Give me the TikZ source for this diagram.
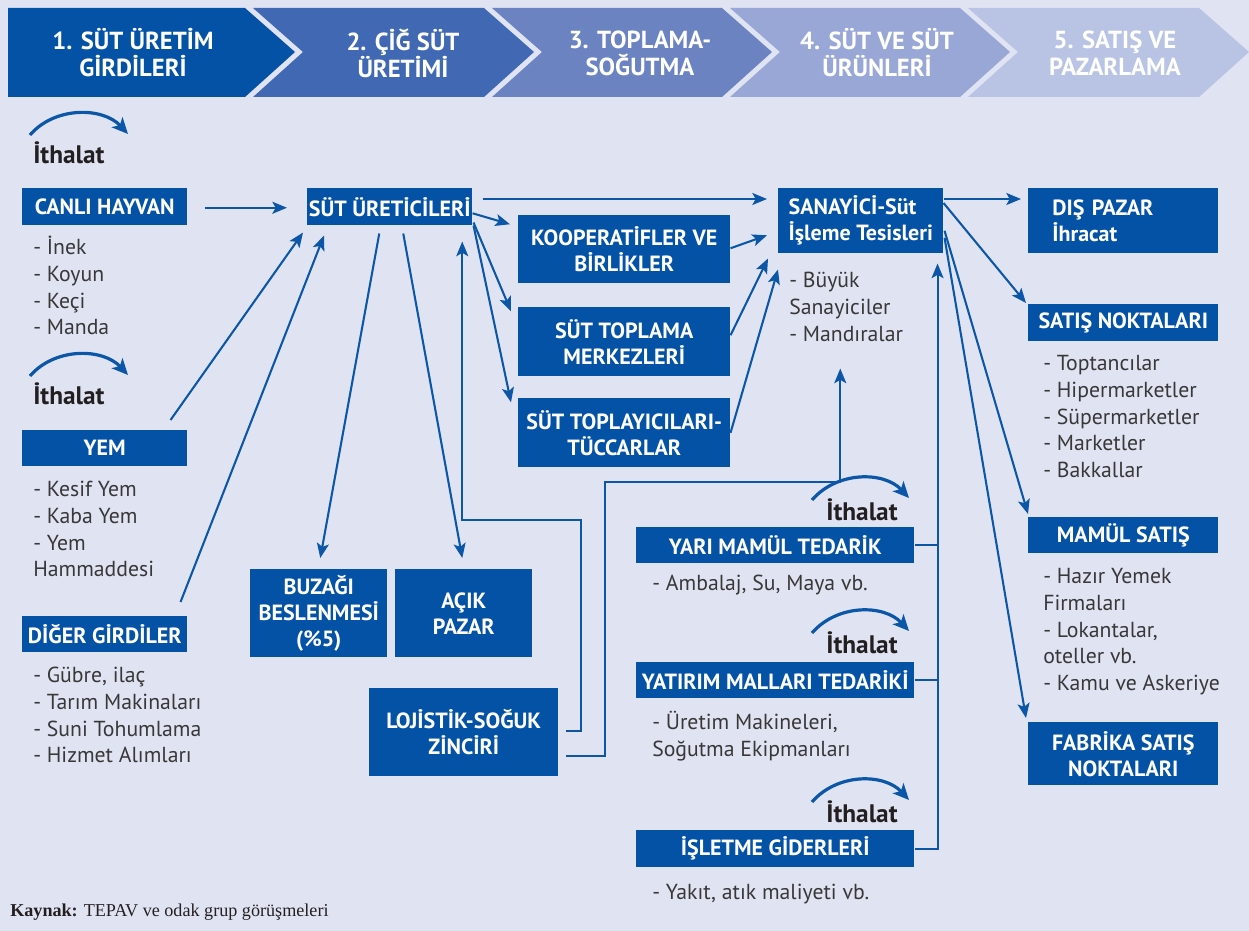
\documentclass[tikz,border=0pt]{standalone}
\usepackage{fontspec}
\setmainfont{PT Sans}
\newfontfamily\capfont{Liberation Serif}
\usepackage{xcolor}
\usetikzlibrary{arrows.meta, positioning, calc}

\definecolor{boxblue}{HTML}{0452A5}
\definecolor{lineblue}{HTML}{0B56A7}
\definecolor{bgcol}{HTML}{E0E4F2}
\definecolor{listgray}{HTML}{383838}
\definecolor{ithgray}{HTML}{231F20}
\definecolor{chevA}{HTML}{0452A5}
\definecolor{chevB}{HTML}{4169B3}
\definecolor{chevC}{HTML}{6C83C2}
\definecolor{chevD}{HTML}{98A7D6}
\definecolor{chevE}{HTML}{B9C3E3}

\begin{document}
\begin{tikzpicture}[
    x=0.75pt, y=-0.75pt,
    box/.style={fill=boxblue, text=white, font=\bfseries\fontsize{16.5}{19.5}\selectfont,
        align=center, inner sep=0pt, anchor=north west},
    sz/.style 2 args={minimum width=#1*0.75pt, minimum height=#2*0.75pt},
    lst/.style={anchor=north west, align=left, inner sep=0pt, text=listgray,
        font=\fontsize{16.3}{20}\selectfont},
    head/.style={text=white, align=center, inner sep=0pt, font=\bfseries\fontsize{18.5}{20.25}\selectfont},
    ith/.style={text=ithgray, inner sep=0pt, font=\bfseries\fontsize{19}{21}\selectfont},
    arr/.style={draw=lineblue, line width=1.55pt, -{Stealth[length=11pt, width=9pt, inset=2.5pt]}},
    conn/.style={draw=lineblue, line width=1.55pt},
    imparc/.style={draw=lineblue, line width=2.4pt, -{Stealth[length=12pt, width=11pt, inset=3pt]}}
]
\fill[bgcol] (0,0) rectangle (1249,931);
\useasboundingbox (0,0) rectangle (1249,931);

% stages
\fill[chevA] (8,8) -- (245,8) -- (295,52) -- (245,97) -- (8,97) -- cycle;
\fill[chevB] (253,8) -- (484,8) -- (534,52) -- (484,97) -- (253,97) -- (303,52) -- cycle;
\fill[chevC] (492,8) -- (722,8) -- (772,52) -- (722,97) -- (492,97) -- (542,52) -- cycle;
\fill[chevD] (730,8) -- (960,8) -- (1010,52) -- (960,97) -- (730,97) -- (780,52) -- cycle;
\fill[chevE] (968,8) -- (1199,8) -- (1249,52) -- (1199,97) -- (968,97) -- (1018,52) -- cycle;
\node[head] (st1) at (133,53) {1. SÜT ÜRETİM\\GİRDİLERİ};
\node[head] (st2) at (403,53) {2. ÇİĞ SÜT\\ÜRETİMİ};
\node[head] (st3) at (640,53) {3. TOPLAMA-\\SOĞUTMA};
\node[head] (st4) at (877,53) {4. SÜT VE SÜT\\ÜRÜNLERİ};
\node[head] (st5) at (1115,53) {5. SATIŞ VE\\PAZARLAMA};

% inputs
\node[ith, anchor=base west] (ith1) at (33,163) {İthalat};
\node[box, sz={165}{37}] (canli) at (22,188) {CANLI HAYVAN};
\node[lst] (canliList) at (33,236) {\strut- İnek\\- Koyun\\- Keçi\\- Manda};
\node[ith, anchor=base west] (ith2) at (33,404) {İthalat};
\node[box, sz={165}{36}] (yem) at (22,430) {YEM};
\node[lst] (yemList) at (33,478) {\strut- Kesif Yem\\- Kaba Yem\\- Yem\\Hammaddesi};
\node[box, sz={165}{36}] (diger) at (22,616) {DİĞER GİRDİLER};
\node[lst] (digerList) at (33,664) {\strut- Gübre, ilaç\\- Tarım Makinaları\\- Suni Tohumlama\\- Hizmet Alımları};

% raw milk
\node[box, sz={165}{37}] (ureticiler) at (307,188) {SÜT ÜRETİCİLERİ};
\node[box, sz={137}{88}] (buzagi) at (250,569) {BUZAĞI\\BESLENMESİ\\(\%5)};
\node[box, sz={137}{88}] (acik) at (395,569) {AÇIK\\PAZAR};
\node[box, sz={189}{88}] (lojistik) at (369,688) {LOJİSTİK-SOĞUK\\ZİNCİRİ};

% collection
\node[box, sz={212}{68}] (koop) at (518,215) {KOOPERATİFLER VE\\BİRLİKLER};
\node[box, sz={212}{69}] (merkez) at (518,307) {SÜT TOPLAMA\\MERKEZLERİ};
\node[box, sz={212}{69}] (tuccar) at (518,398) {SÜT TOPLAYICILARI-\\TÜCCARLAR};

% processing
\node[box, sz={165}{65}, align=left] (sanayici) at (778,188) {SANAYİCİ-Süt\\İşleme Tesisleri};
\node[lst] (sanayiciList) at (789,269) {\strut- Büyük\\Sanayiciler\\- Mandıralar};
\node[ith, anchor=base] (ith3) at (862,520) {İthalat};
\node[box, sz={278}{36}] (yari) at (636,527) {YARI MAMÜL TEDARİK};
\node[lst] (yariList) at (652,572) {\strut- Ambalaj, Su, Maya vb.};
\node[ith, anchor=base] (ith4) at (862,653) {İthalat};
\node[box, sz={278}{36}] (yatirim) at (636,662) {YATIRIM MALLARI TEDARİKİ};
\node[lst] (yatirimList) at (652,711) {\strut- Üretim Makineleri,\\Soğutma Ekipmanları};
\node[ith, anchor=base] (ith5) at (862,822) {İthalat};
\node[box, sz={278}{37}] (isletme) at (636,830) {İŞLETME GİDERLERİ};
\node[lst] (isletmeList) at (652,881) {\strut- Yakıt, atık maliyeti vb.};

% sales
\node[box, align=left, inner xsep=24*0.75pt, text width=142*0.75pt, minimum height=65*0.75pt] (dis) at (1028,188) {DIŞ PAZAR\\İhracat};
\node[box, sz={190}{37}] (satis) at (1028,304) {SATIŞ NOKTALARI};
\node[lst] (satisList) at (1043,352) {\strut- Toptancılar\\- Hipermarketler\\- Süpermarketler\\- Marketler\\- Bakkallar};
\node[box, sz={190}{36}] (mamul) at (1028,517) {MAMÜL SATIŞ};
\node[lst] (mamulList) at (1043,565) {\strut- Hazır Yemek\\Firmaları\\- Lokantalar,\\oteller vb.\\- Kamu ve Askeriye};
\node[box, sz={190}{63}] (fabrika) at (1028,722) {FABRİKA SATIŞ\\NOKTALARI};

\node[anchor=base west, inner sep=0pt, text=ithgray, font=\capfont\fontsize{13.6}{15}\selectfont] (kaynak) at (10,916) {\textbf{Kaynak:} TEPAV ve odak grup görüşmeleri};

% import arcs
\draw[imparc] ($(ith1.base west)+(-3,-28)$) .. controls +(25,-29) and +(-25,-27) .. ($(ith1.base west)+(95,-29)$);
\draw[imparc] ($(ith2.base west)+(-3,-28)$) .. controls +(25,-29) and +(-25,-27) .. ($(ith2.base west)+(95,-29)$);
\draw[imparc] ($(ith3.base)+(-50,-20)$) .. controls +(25,-29) and +(-25,-27) .. ($(ith3.base)+(47,-22)$);
\draw[imparc] ($(ith4.base)+(-50,-20)$) .. controls +(25,-29) and +(-25,-27) .. ($(ith4.base)+(47,-22)$);
\draw[imparc] ($(ith5.base)+(-50,-20)$) .. controls +(25,-29) and +(-25,-27) .. ($(ith5.base)+(47,-22)$);

% flows into producers
\draw[arr] ($(canli.east)+(17,1)$) -- ($(ureticiler.west)+(-20,1)$);
\draw[arr] ($(yem.north east)+(-17,-10)$) -- ($(ureticiler.south west)+(-4,7)$);
\draw[arr] ($(diger.north east)+(-7,-14)$) -- ($(ureticiler.south west)+(17,10)$);
\draw[arr] ($(ureticiler.south)+(-10.5,8)$) -- ($(buzagi.north)+(1.5,-11)$);
\draw[arr] ($(ureticiler.south)+(13.5,8)$) -- ($(acik.north)+(-1.5,-11)$);
\draw[arr] ($(lojistik.east)+(7,-1)$) -| ++(15,-211) -| ($(ureticiler.south)+(72.5,16)$);
\draw[arr] ($(lojistik.east)+(7,24)$) -| ++(39,-274) -| ($(sanayici.south)+(-20.5,115)$);

% producers to collection and industry
\draw[arr] ($(ureticiler.east)+(0,6.5)$) -- ($(koop.west)+(-8,-25)$);
\draw[arr] ($(ureticiler.south east)+(1,-3)$) -- ($(merkez.west)+(-7,-30.5)$);
\draw[arr] ($(ureticiler.south east)+(1,0)$) -- ($(tuccar.west)+(-7,-30.5)$);
\draw[arr] ($(ureticiler.north east)+(10,11)$) -- ($(sanayici.north west)+(-11,11)$);
\draw[arr] ($(koop.east)+(0,-1)$) -- ($(sanayici.west)+(-11,14.5)$);
\draw[arr] ($(merkez.east)+(0,-6.5)$) -- ($(sanayici.south west)+(-10,5)$);
\draw[arr] (tuccar.east) -- ($(sanayici.south west)+(0,16)$);

% industry to sales
\draw[arr] ($(sanayici.north east)+(0,11)$) -- ($(dis.north west)+(-7,11)$);
\draw[arr] ($(sanayici.north east)+(0,15)$) -- ($(satis.north west)+(-2,-1)$);
\draw[arr] ($(sanayici.east)+(1,10)$) -- ($(mamul.north west)+(0,-3)$);
\draw[arr] ($(sanayici.east)+(1,17)$) -- ($(fabrika.north west)+(-2,-4)$);

% supplies
\draw[arr] (isletme.east) -| ($(sanayici.south east)+(-6,10)$);
\draw[conn] (yari.east) -- ++(23,0);
\draw[conn] (yatirim.east) -- ++(23,0);
\end{tikzpicture}
\end{document}
